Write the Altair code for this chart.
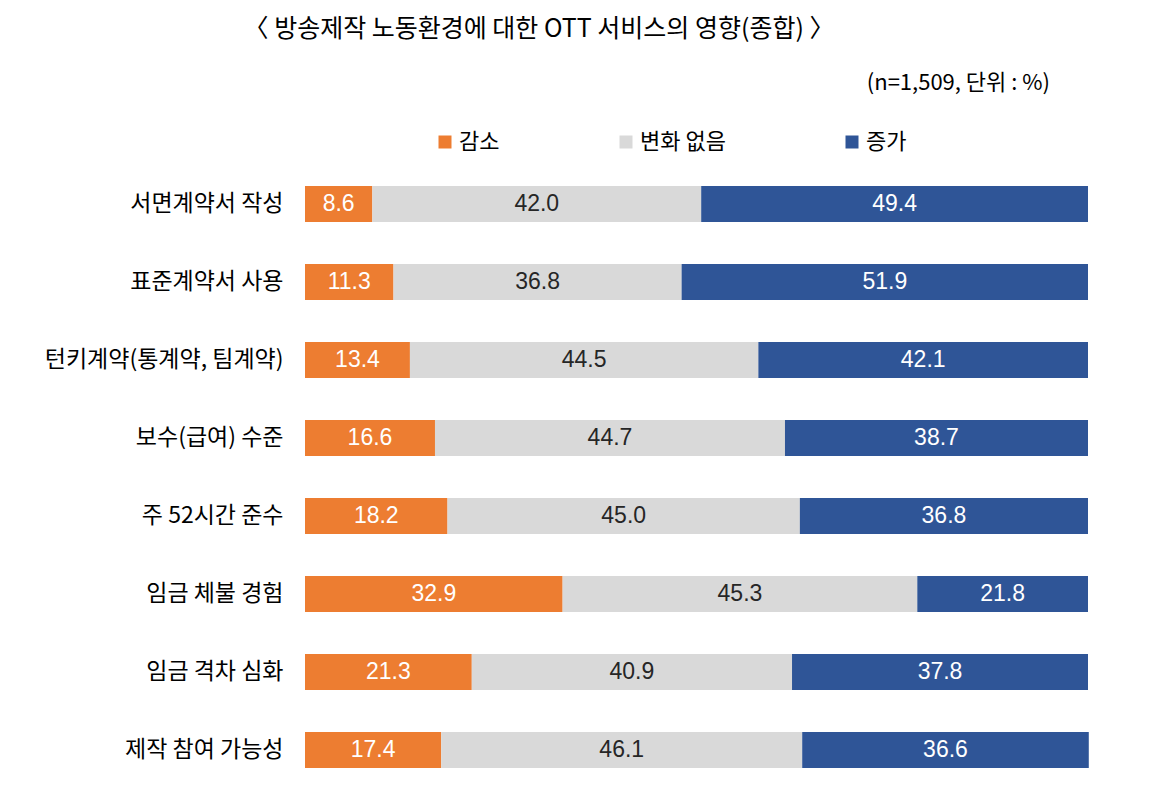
import altair as alt
import pandas as pd

categories = ["서면계약서 작성", "표준계약서 사용", "턴키계약(통계약, 팀계약)", "보수(급여) 수준",
              "주 52시간 준수", "임금 체불 경험", "임금 격차 심화", "제작 참여 가능성"]
series = ["감소", "변화 없음", "증가"]
decrease = [8.6, 11.3, 13.4, 16.6, 18.2, 32.9, 21.3, 17.4]
no_change = [42.0, 36.8, 44.5, 44.7, 45.0, 45.3, 40.9, 46.1]
increase = [49.4, 51.9, 42.1, 38.7, 36.8, 21.8, 37.8, 36.6]
colors = ["#ED7D31", "#D9D9D9", "#2F5597"]
text_colors = ["#FFFFFF", "#262626", "#FFFFFF"]

title_text = "〈 방송제작 노동환경에 대한 OTT 서비스의 영향(종합) 〉"
note_text = "(n=1,509, 단위 : %)"

rows = []
for i, c in enumerate(categories):
    for j, (s, vals) in enumerate(zip(series, [decrease, no_change, increase])):
        rows.append({"category": c, "series": s, "order": j, "value": vals[i]})
df = pd.DataFrame(rows)

KFONT = "Noto Sans CJK KR"

base = alt.Chart(df).transform_stack(
    stack="value", groupby=["category"], as_=["x0", "x1"],
    sort=[alt.SortField("order", order="ascending")]
).transform_calculate(mid="(datum.x0 + datum.x1) / 2")

yenc = alt.Y("category:N", sort=categories, title=None,
             scale=alt.Scale(paddingInner=0.5385, paddingOuter=0.269),
             axis=alt.Axis(ticks=False, domain=False, labelFont=KFONT, labelFontSize=23,
                           labelColor="#000000", labelPadding=22, labelLimit=400))
xscale = alt.Scale(domain=[0, 100], nice=False, zero=True)

bars = base.mark_bar().encode(
    y=yenc,
    x=alt.X("x0:Q", scale=xscale, axis=None),
    x2="x1:Q",
    color=alt.Color("series:N", sort=series,
                    scale=alt.Scale(domain=series, range=colors),
                    legend=alt.Legend(title=None, orient="none", direction="horizontal",
                                      legendX=129, legendY=-34, symbolType="square",
                                      symbolSize=169, symbolStrokeWidth=0,
                                      labelFont=KFONT, labelFontSize=22, labelColor="#000000",
                                      labelOffset=3, columnPadding=115, padding=0)),
)

labels = base.mark_text(font="Liberation Sans", fontSize=23, baseline="middle", align="center").encode(
    y=alt.Y("category:N", sort=categories),
    x=alt.X("mid:Q", scale=xscale),
    text=alt.Text("value:Q", format=".1f"),
    color=alt.Color("series:N", scale=alt.Scale(domain=series, range=text_colors), legend=None),
)

note = alt.Chart(pd.DataFrame({"t": [note_text]})).mark_text(
    font=KFONT, fontSize=22, align="right", baseline="middle", color="#000000"
).encode(text="t:N", x=alt.value(745), y=alt.value(-82))

title = alt.Chart(pd.DataFrame({"t": [title_text]})).mark_text(
    font=KFONT, fontSize=25, align="center", baseline="middle", color="#000000"
).encode(text="t:N", x=alt.value(234), y=alt.value(-136))

chart = alt.layer(bars, labels, note, title).resolve_scale(color="independent").properties(
    width=783, height=624,
    autosize=alt.AutoSizeParams(type="none"),
    padding={"left": 297, "top": 157, "right": 50, "bottom": 3},
).configure_view(stroke=None)

chart.save("out.html", embed_options={"renderer": "svg", "actions": False})
